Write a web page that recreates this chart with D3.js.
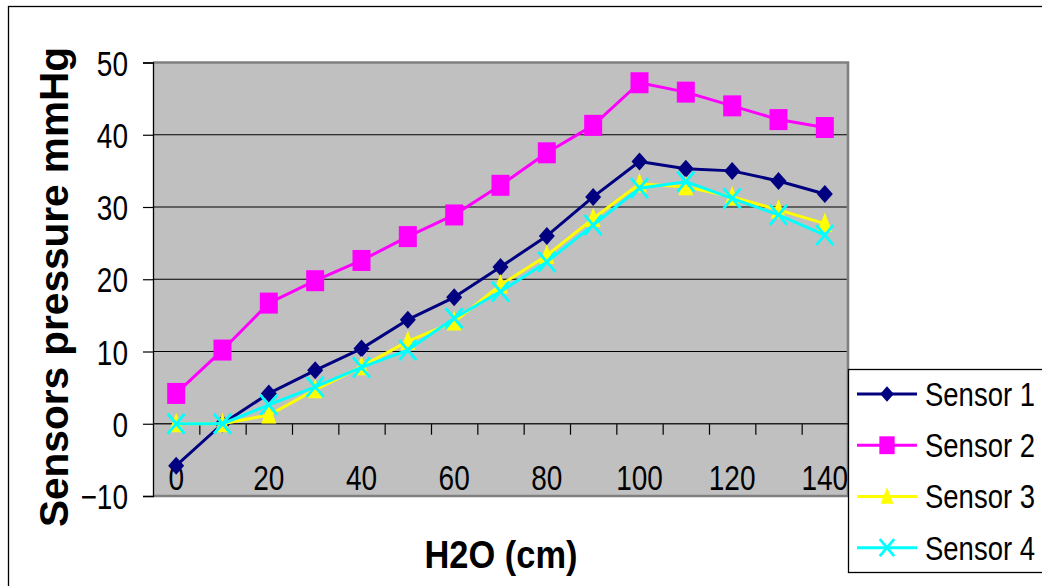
<!DOCTYPE html>
<html>
<head>
<meta charset="utf-8">
<script src="https://cdn.jsdelivr.net/npm/d3@7/dist/d3.min.js"></script>
<style>
  html, body { margin: 0; padding: 0; background: #fff; }
  svg { display: block; }
  text { font-family: "Liberation Sans", Arial, sans-serif; fill: #000; }
</style>
</head>
<body>
<svg id="chart" width="1042" height="586"></svg>
<script>
// Water column height (cm) on the category axis
const categories = [0, 10, 20, 30, 40, 50, 60, 70, 80, 90, 100, 110, 120, 130, 140];
const xTickLabels = [0, 20, 40, 60, 80, 100, 120, 140];
const yTickValues = [-10, 0, 10, 20, 30, 40, 50];

// Pressure readings (mmHg) for each sensor
const sensor1 = [-5.8, 0, 4.2, 7.4, 10.4, 14.4, 17.5, 21.7, 26.0, 31.4, 36.3, 35.3, 35.0, 33.6, 31.8];
const sensor2 = [4.2, 10.2, 16.7, 19.8, 22.6, 25.9, 28.9, 33.0, 37.5, 41.3, 47.2, 45.9, 44.0, 42.1, 41.0];
const sensor3 = [0, 0, 1.2, 4.7, 7.9, 11.4, 14.1, 19.2, 23.3, 28.4, 33.2, 32.8, 31.4, 29.6, 27.7];
const sensor4 = [0, 0, 2.6, 5.1, 7.8, 10.2, 14.6, 18.3, 22.4, 27.5, 32.6, 33.5, 31.2, 28.9, 26.1];

const seriesNames = ["Sensor 1", "Sensor 2", "Sensor 3", "Sensor 4"];
const seriesColors = ["#000080", "#FF00FF", "#FFFF00", "#00FFFF"];
const seriesMarkers = ["diamond", "square", "triangle", "cross"];
const seriesValues = [sensor1, sensor2, sensor3, sensor4];

const svg = d3.select("#chart");
const plot = { left: 153, right: 848, top: 62.5, bottom: 496 };
const SQX = 0.8; // horizontal squeeze of the axis labels

// Chart frame
svg.append("rect")
  .attr("x", 8.5).attr("y", 6.5).attr("width", 1100).attr("height", 640)
  .attr("fill", "#fff").attr("stroke", "#000").attr("stroke-width", 1.3);

const x = d3.scaleBand().domain(categories).range([plot.left, plot.right]);
const xEdge = d3.scaleLinear().domain([0, categories.length]).range([plot.left, plot.right]);
const y = d3.scaleLinear().domain([-10, 50]).range([plot.bottom, plot.top]);

// Plot area
svg.append("rect")
  .attr("x", plot.left).attr("y", plot.top)
  .attr("width", plot.right - plot.left).attr("height", plot.bottom - plot.top)
  .attr("fill", "#C0C0C0");

// Horizontal gridlines
svg.append("g").selectAll("line")
  .data(yTickValues.filter(v => v > -10 && v < 50 && v !== 0))
  .join("line")
  .attr("x1", plot.left).attr("x2", plot.right)
  .attr("y1", d => y(d)).attr("y2", d => y(d))
  .attr("stroke", "#000").attr("stroke-width", 1.2);

// Plot area border (top, right, bottom)
svg.append("path")
  .attr("d", `M${plot.left},${plot.top}H${plot.right}V${plot.bottom}H${plot.left}`)
  .attr("fill", "none").attr("stroke", "#808080").attr("stroke-width", 2.6);

// Y axis
const yAxis = svg.append("g")
  .attr("transform", `translate(${plot.left},0)`)
  .call(d3.axisLeft(y).tickValues(yTickValues).tickSize(10).tickPadding(0));
yAxis.select(".domain").attr("stroke", "#000").attr("stroke-width", 1.3);
yAxis.selectAll(".tick line").attr("stroke", "#000").attr("stroke-width", 1.2);
yAxis.selectAll(".tick text")
  .attr("font-size", 35).attr("font-family", "Liberation Sans, Arial, sans-serif")
  .attr("x", -25 / SQX).attr("dy", "0.36em")
  .attr("transform", `scale(${SQX},1)`);

// X axis: line at zero, ticks at category boundaries
const xTicks = svg.append("g")
  .attr("transform", `translate(0,${y(0)})`)
  .call(d3.axisBottom(xEdge).tickValues(d3.range(1, categories.length)).tickSize(11).tickFormat(""));
xTicks.select(".domain").remove();
xTicks.selectAll(".tick line").attr("stroke", "#000").attr("stroke-width", 1.2);
svg.append("line")
  .attr("x1", plot.left).attr("x2", plot.right)
  .attr("y1", y(0)).attr("y2", y(0))
  .attr("stroke", "#202020").attr("stroke-width", 1.3);

const xLabels = svg.append("g")
  .attr("transform", `translate(0,${y(0)})`)
  .call(d3.axisBottom(x).tickValues(xTickLabels).tickSize(0).tickPadding(0));
xLabels.select(".domain").remove();
xLabels.selectAll(".tick text")
  .attr("font-size", 35).attr("font-family", "Liberation Sans, Arial, sans-serif")
  .attr("y", 66.5).attr("dy", 0)
  .attr("transform", `scale(${SQX},1)`)
  .each(function() {
    // keep label centred on its category after the squeeze
    const g = d3.select(this.parentNode);
    const m = /translate\(([-\d.]+)/.exec(g.attr("transform"));
    const cx = +m[1];
    g.attr("transform", "translate(0,0)");
    d3.select(this).attr("x", cx / SQX);
  });

// Marker shapes
function markerPath(type, s) {
  if (type === "diamond") return `M0,${-9 * s}L${8 * s},0L0,${9 * s}L${-8 * s},0Z`;
  if (type === "square") return `M${-9 * s},${-10.5 * s}H${9 * s}V${10.5 * s}H${-9 * s}Z`;
  if (type === "triangle") return `M0,${-11 * s}L${7.5 * s},${8.5 * s}H${-7.5 * s}Z`;
  return `M${-8.5 * s},${-10 * s}L${8.5 * s},${10 * s}M${8.5 * s},${-10 * s}L${-8.5 * s},${10 * s}`;
}
function drawMarker(sel, type, color, s) {
  if (type === "cross") {
    sel.append("path").attr("d", markerPath(type, s))
      .attr("fill", "none").attr("stroke", color).attr("stroke-width", 2.8);
  } else {
    sel.append("path").attr("d", markerPath(type, s)).attr("fill", color);
  }
}

const line = d3.line()
  .x((d, i) => x(categories[i]) + x.bandwidth() / 2)
  .y(d => y(d));

seriesValues.forEach((vals, k) => {
  const g = svg.append("g");
  g.append("path")
    .attr("d", line(vals))
    .attr("fill", "none")
    .attr("stroke", seriesColors[k])
    .attr("stroke-width", 3)
    .attr("stroke-linejoin", "round");
  vals.forEach((v, i) => {
    const m = g.append("g")
      .attr("transform", `translate(${x(categories[i]) + x.bandwidth() / 2},${y(v)})`);
    drawMarker(m, seriesMarkers[k], seriesColors[k], 1);
  });
});

// Axis titles
svg.append("text")
  .attr("x", 501).attr("y", 568)
  .attr("text-anchor", "middle")
  .attr("font-size", 38).attr("font-weight", "bold")
  .attr("textLength", 153).attr("lengthAdjust", "spacingAndGlyphs")
  .text("H2O (cm)");

svg.append("text")
  .attr("transform", "translate(68,287) rotate(-90)")
  .attr("text-anchor", "middle")
  .attr("font-size", 40).attr("font-weight", "bold")
  .attr("textLength", 480).attr("lengthAdjust", "spacingAndGlyphs")
  .text("Sensors pressure mmHg");

// Legend
const legend = svg.append("g");
legend.append("rect")
  .attr("x", 848.5).attr("y", 369.5).attr("width", 260).attr("height", 203)
  .attr("fill", "#fff").attr("stroke", "#000").attr("stroke-width", 1.3);
const rowY = d3.scalePoint().domain(seriesNames).range([394, 547.7]);
seriesNames.forEach((name, k) => {
  const ry = rowY(name);
  legend.append("line")
    .attr("x1", 857).attr("x2", 917).attr("y1", ry).attr("y2", ry)
    .attr("stroke", seriesColors[k]).attr("stroke-width", 3);
  const m = legend.append("g").attr("transform", `translate(887,${ry})`);
  drawMarker(m, seriesMarkers[k], seriesColors[k], 0.85);
  // narrower face, stretched vertically to the label height
  legend.append("text")
    .attr("transform", `translate(925,${ry + 12}) scale(1,1.18)`)
    .attr("font-size", 27.5)
    .text(name);
});
</script>
</body>
</html>
